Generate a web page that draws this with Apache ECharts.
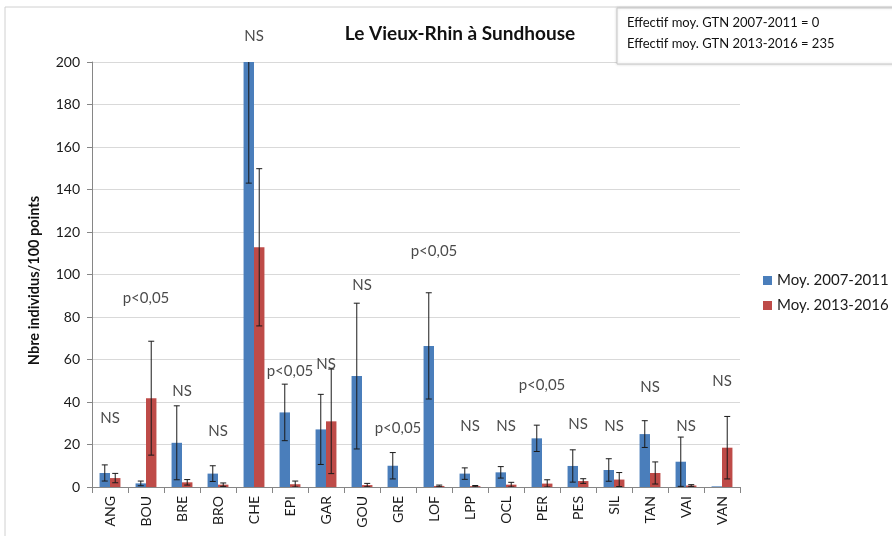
<!DOCTYPE html>
<html>
<head>
<meta charset="utf-8">
<script src="https://cdn.jsdelivr.net/npm/echarts@6/dist/echarts.min.js"></script>
<style>
  html, body { margin: 0; padding: 0; background: #fff; }
  #chart { width: 892px; height: 536px; }
</style>
</head>
<body>
<div id="chart"></div>
<script>
// Données (moyennes + écarts des barres d'erreur)
const categories = ["ANG", "BOU", "BRE", "BRO", "CHE", "EPI", "GAR", "GOU", "GRE",
    "LOF", "LPP", "OCL", "PER", "PES", "SIL", "TAN", "VAI", "VAN"];
const moy0711 = [6.6, 1.7, 20.8, 6.3, 200, 35.1, 27.1, 52.2, 10.0,
    66.4, 6.3, 6.9, 22.9, 9.9, 8.0, 24.9, 11.9, 0.3];
const err0711 = [3.8, 1.1, 17.4, 3.7, 57, 13.3, 16.5, 34.3, 6.2,
    25.0, 2.7, 2.7, 6.2, 7.6, 5.3, 6.3, 11.6, 0];
const moy1316 = [4.2, 41.8, 2.2, 1.1, 112.8, 1.3, 30.9, 0.9, 0,
    0.5, 0.4, 1.1, 1.6, 2.8, 3.5, 6.6, 0.7, 18.5];
const err1316 = [2.2, 26.8, 1.3, 0.8, 37, 1.5, 24.6, 0.8, 0,
    0.4, 0.3, 1.1, 1.8, 1.1, 3.3, 5.2, 0.4, 14.7];
const signif = ["NS", "p<0,05", "NS", "NS", "NS", "p<0,05", "NS", "NS", "p<0,05",
    "p<0,05", "NS", "NS", "p<0,05", "NS", "NS", "NS", "NS", "NS"];
const signifY = [32.5, 88.9, 45.2, 26.4, 212.2, 54.6, 57.9, 95, 27.8,
    111, 28.7, 28.7, 48, 29.6, 28.7, 47, 28.7, 49.9];
const yTicks = [0, 20, 40, 60, 80, 100, 120, 140, 160, 180, 200];

const FONT = "Lato, 'Open Sans', sans-serif";
const BLUE = "#4a7ebb";
const RED = "#be4b48";
const CAT_GAP = 0.42;

const chart = echarts.init(document.getElementById("chart"));

// barres d'erreur : décalées sur la barre gauche (-1) ou droite (+1)
function errorBars(side) {
    return function (params, api) {
        const i = api.value(0);
        const v = api.value(1);
        const e = api.value(2);
        if (!e) return null;
        const band = api.size([1, 0])[0];
        const barW = band * (1 - CAT_GAP) / 2;
        const dx = side * barW / 2;
        const top = api.coord([i, v + e]);
        const bot = api.coord([i, Math.max(v - e, 0)]);
        const x = top[0] + dx;
        const cap = 3;
        const style = { stroke: "#1a1a1a", lineWidth: 1 };
        return {
            type: "group",
            children: [
                { type: "line", shape: { x1: x, y1: top[1], x2: x, y2: bot[1] }, style },
                { type: "line", shape: { x1: x - cap, y1: top[1], x2: x + cap, y2: top[1] }, style },
                { type: "line", shape: { x1: x - cap, y1: bot[1], x2: x + cap, y2: bot[1] }, style },
            ],
        };
    };
}

chart.setOption({
    animation: false,
    backgroundColor: "#fff",
    textStyle: { fontFamily: FONT },
    title: {
        text: "Le Vieux-Rhin à Sundhouse",
        left: 455,
        textAlign: "center",
        top: 19,
        textStyle: { fontFamily: FONT, fontSize: 19, fontWeight: "bold", color: "#111" },
    },
    graphic: [
        {
            type: "rect",
            shape: { x: 5, y: 7, width: 900, height: 540 },
            style: { fill: "none", stroke: "#d0d0d0", lineWidth: 1 },
            silent: true,
        },
        {
            type: "rect",
            shape: { x: 617, y: 8, width: 280, height: 56 },
            style: { fill: "#fff", stroke: "#c8c8c8", lineWidth: 1, shadowBlur: 3, shadowColor: "rgba(0,0,0,0.15)" },
            z: 10,
        },
        {
            type: "text", left: 627, top: 16, z: 11,
            style: { text: "Effectif moy. GTN 2007-2011 = 0", font: "13px " + FONT, fill: "#111" },
        },
        {
            type: "text", left: 627, top: 37, z: 11,
            style: { text: "Effectif moy. GTN 2013-2016 = 235", font: "13px " + FONT, fill: "#111" },
        },
    ],
    legend: {
        orient: "vertical",
        left: 758,
        top: 268,
        itemWidth: 9,
        itemHeight: 9,
        itemGap: 10,
        icon: "rect",
        data: ["Moy. 2007-2011", "Moy. 2013-2016"],
        textStyle: { fontFamily: FONT, fontSize: 15, color: "#1a1a1a" },
    },
    grid: { left: 92, right: 152, top: 62, bottom: 49 },
    xAxis: {
        type: "category",
        data: categories,
        axisLine: { lineStyle: { color: "#868686" } },
        axisTick: { show: true, length: 6, lineStyle: { color: "#868686" } },
        axisLabel: { rotate: 90, fontSize: 14, color: "#1a1a1a", margin: 9, fontFamily: FONT },
    },
    yAxis: {
        type: "value",
        min: 0,
        max: 200,
        interval: 20,
        name: "Nbre individus/100 points",
        nameLocation: "middle",
        nameGap: 50,
        nameTextStyle: {
            fontFamily: FONT, fontSize: 14.5, fontWeight: "bold", color: "#111",
            padding: [0, 12, 0, 0],
        },
        axisLine: { show: true, lineStyle: { color: "#868686" } },
        axisTick: { show: true, length: 5, lineStyle: { color: "#868686" } },
        axisLabel: {
            fontSize: 14, color: "#1a1a1a", margin: 12, fontFamily: FONT,
            formatter: (v) => (yTicks.includes(v) ? String(v) : ""),
        },
        splitLine: { lineStyle: { color: "#d9d9d9" } },
    },
    series: [
        {
            name: "Moy. 2007-2011",
            type: "bar",
            data: moy0711,
            barGap: "0%",
            barCategoryGap: (CAT_GAP * 100) + "%",
            itemStyle: { color: BLUE },
        },
        {
            name: "Moy. 2013-2016",
            type: "bar",
            data: moy1316,
            barGap: "0%",
            barCategoryGap: (CAT_GAP * 100) + "%",
            itemStyle: { color: RED },
        },
        {
            type: "custom",
            clip: true,
            z: 5,
            renderItem: errorBars(-1),
            data: categories.map((c, i) => [i, moy0711[i], err0711[i]]),
        },
        {
            type: "custom",
            clip: true,
            z: 5,
            renderItem: errorBars(1),
            data: categories.map((c, i) => [i, moy1316[i], err1316[i]]),
        },
        {
            type: "scatter",
            clip: false,
            symbolSize: 0,
            silent: true,
            data: categories.map((c, i) => [i, signifY[i]]),
            label: {
                show: true,
                position: "inside",
                fontFamily: FONT,
                fontSize: 15,
                color: "#1a1a1a",
                formatter: (p) => signif[p.dataIndex],
            },
        },
    ],
});
</script>
</body>
</html>
